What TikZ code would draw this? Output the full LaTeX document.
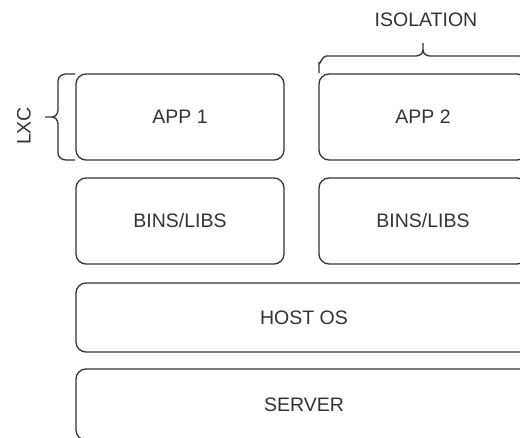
\documentclass[tikz,border=0pt]{standalone}
\usepackage{fontspec}
\setmainfont{Liberation Sans}
\definecolor{ln}{HTML}{333333}
\begin{document}
\begin{tikzpicture}[x=1pt,y=-1pt,
  box/.style={draw=ln,line width=1.3pt,rounded corners=10pt},
  lbl/.style={text=ln,font=\fontsize{19.5}{21}\selectfont,inner sep=0pt},
  brace/.style={draw=ln,line width=1.3pt}]
\useasboundingbox (0,0) rectangle (520,438);
\clip (0,0) rectangle (520,438);
\draw[box] (76,74) rectangle (284,160);
\draw[box] (319,74) rectangle (527,160);
\draw[box] (76,178) rectangle (284,264);
\draw[box] (319,178) rectangle (527,264);
\draw[box] (76,283) rectangle (532,352);
\draw[box] (76,369) rectangle (532,440);
\node[lbl] (app1) at (180,117) {APP 1};
\node[lbl] (app2) at (423,117) {APP 2};
\node[lbl] (bins1) at (180,221) {BINS/LIBS};
\node[lbl] (bins2) at (423,221) {BINS/LIBS};
\node[lbl] (host) at (304,317.5) {HOST OS};
\node[lbl] (server) at (304,404.5) {SERVER};
\node[lbl,rotate=90] (lxc) at (24,126) {LXC};
\node[lbl] (iso) at (426,20) {ISOLATION};
% LXC brace
\draw[brace] (75,74) -- (66,74) to[out=180,in=90] (58,81) -- (58,110)
  to[out=-90,in=0] (52,117) -- (45,117);
\draw[brace] (52,117) to[out=0,in=90] (58,124) -- (58,153)
  to[out=-90,in=180] (66,160) -- (75,160);
% ISOLATION brace
\draw[brace] (319,73) -- (319,63) to[out=-90,in=180] (326,56) -- (416,56)
  to[out=0,in=-90] (423,50) -- (423,43);
\draw[brace] (423,50) to[out=-90,in=180] (430,56) -- (520,56)
  to[out=0,in=-90] (527,63) -- (527,73);
\end{tikzpicture}
\end{document}
